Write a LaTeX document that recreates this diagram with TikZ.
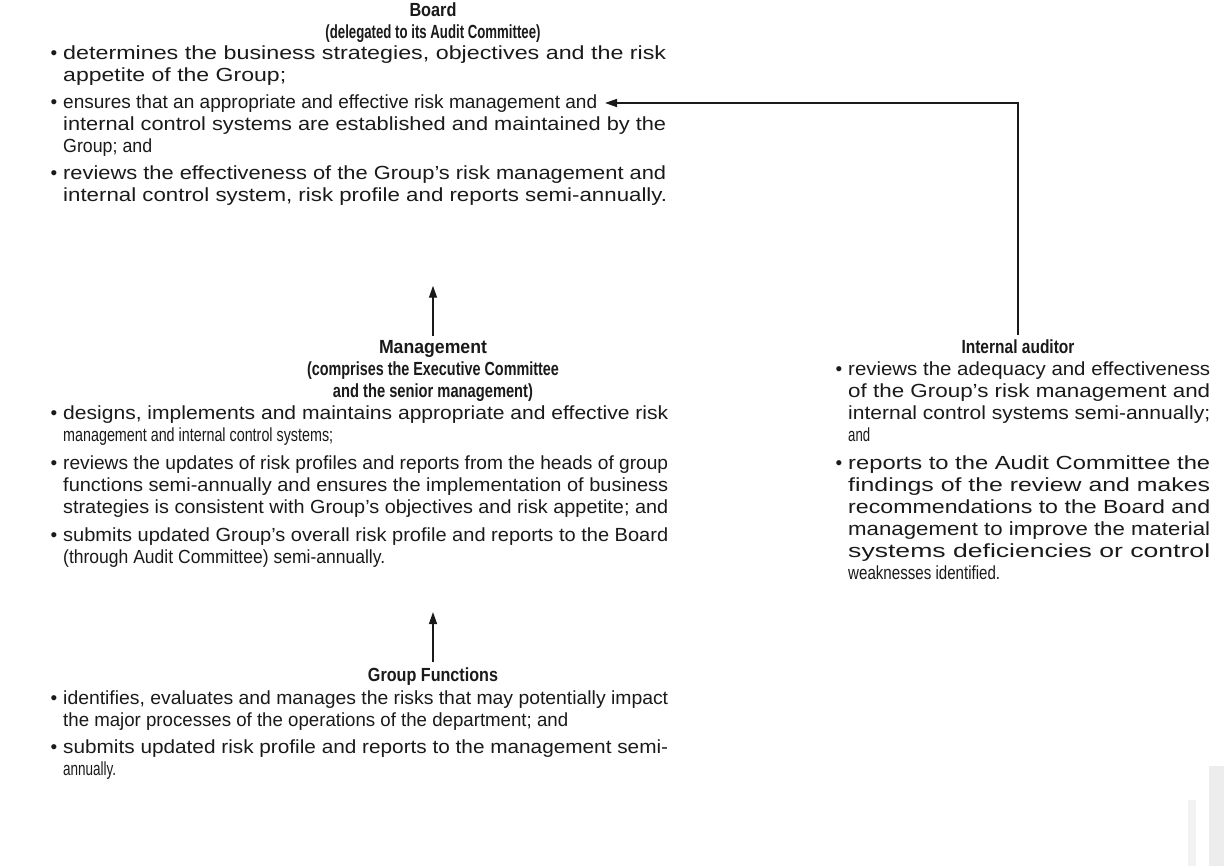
\documentclass[tikz,border=0pt]{standalone}
\usepackage{fontspec}
\setmainfont{Liberation Sans}
\usepackage{graphicx}
\usetikzlibrary{arrows.meta}
\definecolor{ink}{HTML}{1A1A1A}
\newcommand\fitln[2]{\leavevmode\resizebox{#1pt}{\height}{#2}}
\newcommand\bu{\leavevmode\llap{\textbullet\hspace{6pt}}}
\newcommand\bodyblk[2]{\vtop{\hsize=#1pt\parindent=0pt\parskip=0pt\baselineskip=22pt\lineskiplimit=-20pt\parfillskip=0pt plus 1fil #2}}
\newcommand\ttlblk[1]{\vtop{\hsize=500pt\parindent=0pt\parskip=0pt\baselineskip=22pt\lineskiplimit=-20pt\centering\bfseries #1\par}}
\tikzset{
  body/.style={anchor=base west, inner sep=0pt, text=ink, font=\fontsize{19}{22}\selectfont},
  ttl/.style={anchor=base, inner sep=0pt, text=ink, font=\fontsize{19}{22}\selectfont},
  arr/.style={draw=ink, line width=1.4pt, -{Triangle[length=12pt,width=8pt]}}
}
\begin{document}
\begin{tikzpicture}[x=1pt,y=-1pt]
\useasboundingbox (0,0) rectangle (1224,866);
\fill[white] (0,0) rectangle (1224,866);
% faint scan marks bottom right
\fill[black!5] (1188,800) rectangle (1196,866);
\fill[black!7] (1209,766) rectangle (1224,866);

% Board
\node[ttl] (boardT) at (433,17) {\ttlblk{\fitln{47}{Board}\\\fitln{215}{(delegated to its Audit Committee)}}};
\node[body] (boardB) at (63,60) {\bodyblk{603}{%
\bu\fitln{603}{determines the business strategies, objectives and the risk}\par
\fitln{223}{appetite of the Group;}\par\vspace{5pt}
\bu\fitln{534}{ensures that an appropriate and effective risk management and}\par
\fitln{603}{internal control systems are established and maintained by the}\par
\fitln{89}{Group; and}\par\vspace{5pt}
\bu\fitln{603}{reviews the effectiveness of the Group's risk management and}\par
\fitln{604}{internal control system, risk profile and reports semi-annually.}\par}};

% Management
\node[ttl] (mgmtT) at (433,354) {\ttlblk{\fitln{108}{Management}\\\fitln{252}{(comprises the Executive Committee}\\\fitln{200}{and the senior management)}}};
\node[body] (mgmtB) at (63,420) {\bodyblk{605}{%
\bu\fitln{605}{designs, implements and maintains appropriate and effective risk}\par
\fitln{270}{management and internal control systems;}\par\vspace{6pt}
\bu\fitln{605}{reviews the updates of risk profiles and reports from the heads of group}\par
\fitln{605}{functions semi-annually and ensures the implementation of business}\par
\fitln{605}{strategies is consistent with Group's objectives and risk appetite; and}\par\vspace{6pt}
\bu\fitln{605}{submits updated Group's overall risk profile and reports to the Board}\par
\fitln{322}{(through Audit Committee) semi-annually.}\par}};

% Group Functions
\node[ttl] (grpT) at (433,681) {\ttlblk{\fitln{130}{Group Functions}}};
\node[body] (grpB) at (63,704) {\bodyblk{605}{%
\bu\fitln{605}{identifies, evaluates and manages the risks that may potentially impact}\par
\fitln{505}{the major processes of the operations of the department; and}\par\vspace{5pt}
\bu\fitln{605}{submits updated risk profile and reports to the management semi-}\par
\fitln{53}{annually.}\par}};

% Internal auditor
\node[ttl] (iaT) at (1018,354) {\ttlblk{\fitln{113}{Internal auditor}}};
\node[body] (iaB) at (848,376) {\bodyblk{362}{%
\bu\fitln{362}{reviews the adequacy and effectiveness}\par
\fitln{362}{of the Group's risk management and}\par
\fitln{362}{internal control systems semi-annually;}\par
\fitln{22}{and}\par\vspace{6pt}
\bu\fitln{362}{reports to the Audit Committee the}\par
\fitln{362}{findings of the review and makes}\par
\fitln{362}{recommendations to the Board and}\par
\fitln{362}{management to improve the material}\par
\fitln{362}{systems deficiencies or control}\par
\fitln{152}{weaknesses identified.}\par}};

% connectors
\coordinate (tip) at (605,103);
\draw[arr] ([yshift=5pt]mgmtT.north) -- ++(0,-50);
\draw[arr] ([yshift=5pt]grpT.north) -- ++(0,-50);
\draw[arr] ([yshift=5pt]iaT.north) |- (tip);
\end{tikzpicture}
\end{document}
